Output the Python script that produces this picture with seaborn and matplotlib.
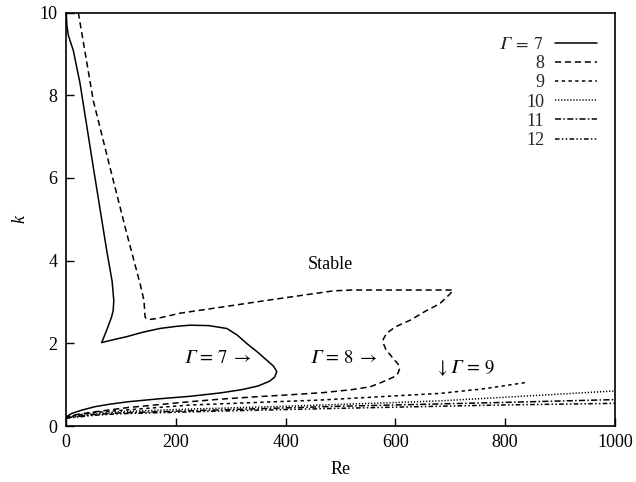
import matplotlib
matplotlib.use("Agg")
import matplotlib.pyplot as plt
import seaborn as sns
import pandas as pd

sns.set_theme(style="white")
plt.rcParams['font.family'] = ['Liberation Serif', 'DejaVu Serif']
plt.rcParams['mathtext.fontset'] = 'stix'

GAM = '\U0001D6E4'  # mathematical italic capital Gamma

# Gamma = 7 (solid)
re7 = [0.5, 1.5, 4.2, 13.3, 25.5, 49.7, 74.1, 84, 87, 86, 83, 75, 65, 90, 110, 140, 171, 200, 226, 260, 293, 312, 329, 348, 366, 378, 384, 380, 370, 350, 320, 280, 226, 170, 114, 80, 53, 30, 11, 0]
k7 = [10.0, 9.7, 9.45, 9.08, 8.29, 6.26, 4.25, 3.5, 3.04, 2.8, 2.64, 2.35, 2.02, 2.1, 2.16, 2.27, 2.36, 2.41, 2.44, 2.43, 2.36, 2.2, 2.0, 1.8, 1.59, 1.45, 1.32, 1.18, 1.08, 0.97, 0.88, 0.8, 0.72, 0.66, 0.59, 0.53, 0.47, 0.39, 0.31, 0.22]

# Gamma = 8 (dashed)
re8 = [22.4, 49.7, 80, 110.6, 134.8, 142, 144, 146, 153, 165, 208, 244, 366, 487, 520, 705, 700, 681, 655, 627, 600, 584, 578, 578, 583, 595, 605, 608, 605, 596, 584, 570, 554, 520, 469, 400, 347, 280, 226, 170, 114, 50, 20, 0]
k8 = [10.0, 7.87, 6.26, 4.66, 3.45, 3.04, 2.64, 2.6, 2.58, 2.6, 2.73, 2.80, 3.04, 3.27, 3.29, 3.29, 3.2, 2.96, 2.78, 2.56, 2.4, 2.24, 2.1, 2.0, 1.85, 1.65, 1.5, 1.4, 1.28, 1.18, 1.11, 1.03, 0.95, 0.88, 0.81, 0.75, 0.71, 0.65, 0.59, 0.52, 0.45, 0.34, 0.28, 0.22]

# Gamma = 9 .. 12
re9 = [0, 50, 100, 226, 463, 681, 760, 836]
k9 = [0.22, 0.33, 0.38, 0.51, 0.63, 0.79, 0.90, 1.05]
re10 = [0, 50, 100, 200, 400, 600, 681, 790, 1000]
k10 = [0.21, 0.30, 0.35, 0.40, 0.48, 0.57, 0.61, 0.69, 0.85]
re11 = [0, 50, 100, 300, 500, 790, 1000]
k11 = [0.20, 0.28, 0.32, 0.40, 0.48, 0.57, 0.64]
re12 = [0, 50, 100, 300, 500, 790, 1000]
k12 = [0.19, 0.26, 0.30, 0.37, 0.43, 0.51, 0.55]

labels = ['$' + GAM + '\\;=\\;7$', '8', '9', '10', '11', '12']
series = [(re7, k7), (re8, k8), (re9, k9), (re10, k10), (re11, k11), (re12, k12)]
styles = ['-', (0, (4, 2.5)), (0, (2.2, 2.2)), (0, (0.8, 1.2)), (0, (4, 1.5, 1, 1.5)), (0, (3, 1.5, 1, 1.5, 1, 1.5))]

fig = plt.figure(figsize=(6.36, 4.82), dpi=100)
ax = fig.add_axes([0.1038, 0.116, 0.863, 0.858])

for (x, y), lab, ls in zip(series, labels, styles):
    df = pd.DataFrame({'Re': x, 'k': y})
    sns.lineplot(data=df, x='Re', y='k', sort=False, estimator=None, ax=ax,
                 color='black', linewidth=1.1, linestyle=ls, label=lab)

ax.set_xlim(0, 1000)
ax.set_ylim(0, 10)
ax.set_xticks([0, 200, 400, 600, 800, 1000])
ax.set_yticks([0, 2, 4, 6, 8, 10])
ax.tick_params(direction='in', length=6, width=1, labelsize=13, colors='black',
               top=False, right=False, left=True, bottom=True, pad=6)
for sp in ax.spines.values():
    sp.set_color('black')
    sp.set_linewidth(1.2)
ax.set_xlabel('Re', fontsize=13, color='black', labelpad=7)
ax.set_ylabel('k', fontsize=13, color='black', style='italic', labelpad=8)

ax.text(481, 3.9, 'Stable', fontsize=13, ha='center', va='center', color='black')
ax.text(275, 1.63, '$' + GAM + '\\,=\\,7\\;\\rightarrow$', fontsize=13.5, ha='center', va='center', color='black')
ax.text(505, 1.63, '$' + GAM + '\\,=\\,8\\;\\rightarrow$', fontsize=13.5, ha='center', va='center', color='black')
ax.text(727, 1.40, '$\\downarrow ' + GAM + '\\,=\\,9$', fontsize=13.5, ha='center', va='center', color='black')

leg = ax.legend(loc='upper right', bbox_to_anchor=(1.011, 1.0), frameon=False, markerfirst=False,
                fontsize=13, handlelength=2.35, labelspacing=0.12, borderaxespad=0.9,
                handletextpad=0.6)

fig.savefig('out.png', dpi=100)
